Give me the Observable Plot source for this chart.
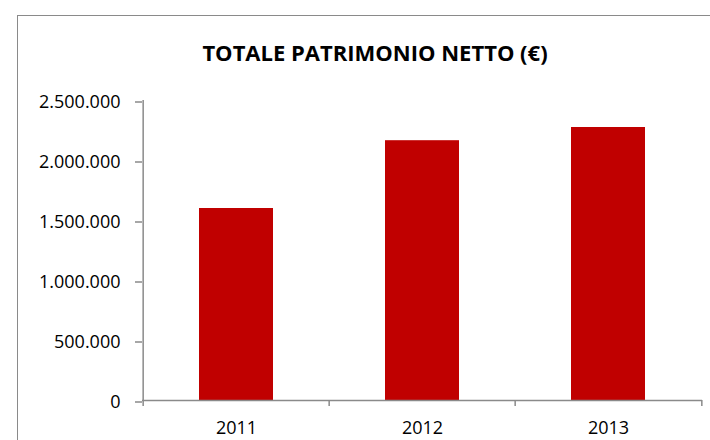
<!DOCTYPE html>
<html>
<head>
<meta charset="utf-8">
<script src="https://cdn.jsdelivr.net/npm/d3@7"></script>
<script src="https://cdn.jsdelivr.net/npm/@observablehq/plot@0.6"></script>
<style>
  html, body { margin: 0; padding: 0; background: #fff; }
  #wrap { position: relative; width: 710px; height: 440px; overflow: hidden; background: #fff; }
  #frame { position: absolute; left: 17px; top: 15px; width: 800px; height: 800px; border: 1.6px solid #8a8a8a; box-sizing: border-box; }
  #title { position: absolute; left: 0; width: 750px; top: 37px; text-align: center; font-family: "Open Sans", sans-serif; font-weight: 700; font-size: 22px; line-height: 30px; color: #000; }
  #chart { position: absolute; left: 0; top: 0; }
</style>
</head>
<body>
<div id="wrap">
  <div id="frame"></div>
  <div id="title">TOTALE PATRIMONIO NETTO (€)</div>
  <div id="chart"></div>
</div>
<script>
const years = ["2011", "2012", "2013"];
const values = [1600000, 2165000, 2275000];
const yTicks = [0, 500000, 1000000, 1500000, 2000000, 2500000];

const data = years.map((y, i) => ({year: y, value: values[i]}));
const itFmt = d3.formatLocale({decimal: ",", thousands: ".", grouping: [3], currency: ["€", ""]}).format(",d");

const W = 710, H = 440;
const mL = 142, mR = 8, mT = 100, mB = 40;
const step = (W - mL - mR) / years.length;
const axisColor = "#8a8a8a";

const plot = Plot.plot({
  width: W,
  height: H,
  marginLeft: mL,
  marginRight: mR,
  marginTop: mT,
  marginBottom: mB,
  style: {fontFamily: "'Open Sans', sans-serif", fontSize: "18px", color: "#000", background: "transparent"},
  x: {domain: years, paddingInner: 0.6, paddingOuter: 0.3, label: null},
  y: {domain: [0, 2500000], label: null},
  marks: [
    Plot.barY(data, {x: "year", y: "value", fill: "#c00000"}),
    // x axis baseline
    Plot.ruleY([0], {stroke: axisColor, strokeWidth: 1.5}),
    // y axis line (left edge of first band) plus category boundary ticks
    Plot.ruleX([years[0]], {x: d => d, dx: -step / 2, y1: 0, y2: 2500000, stroke: axisColor, strokeWidth: 1.5}),
    Plot.ruleX(years, {x: d => d, dx: -step / 2, y1: 0, y2: 0, insetBottom: -6, stroke: axisColor, strokeWidth: 1.5}),
    Plot.ruleX([years[years.length - 1]], {x: d => d, dx: step / 2, y1: 0, y2: 0, insetBottom: -6, stroke: axisColor, strokeWidth: 1.5}),
    Plot.axisY({ticks: yTicks, tickFormat: itFmt, tickSize: 7, tickPadding: 15, stroke: axisColor, strokeWidth: 1.5, fill: "#000", fontSize: 18, dy: 1.5, label: null}),
    Plot.axisX({tickSize: 0, tickPadding: 21, fill: "#000", fontSize: 18, label: null})
  ]
});
document.getElementById("chart").appendChild(plot);
</script>
</body>
</html>
